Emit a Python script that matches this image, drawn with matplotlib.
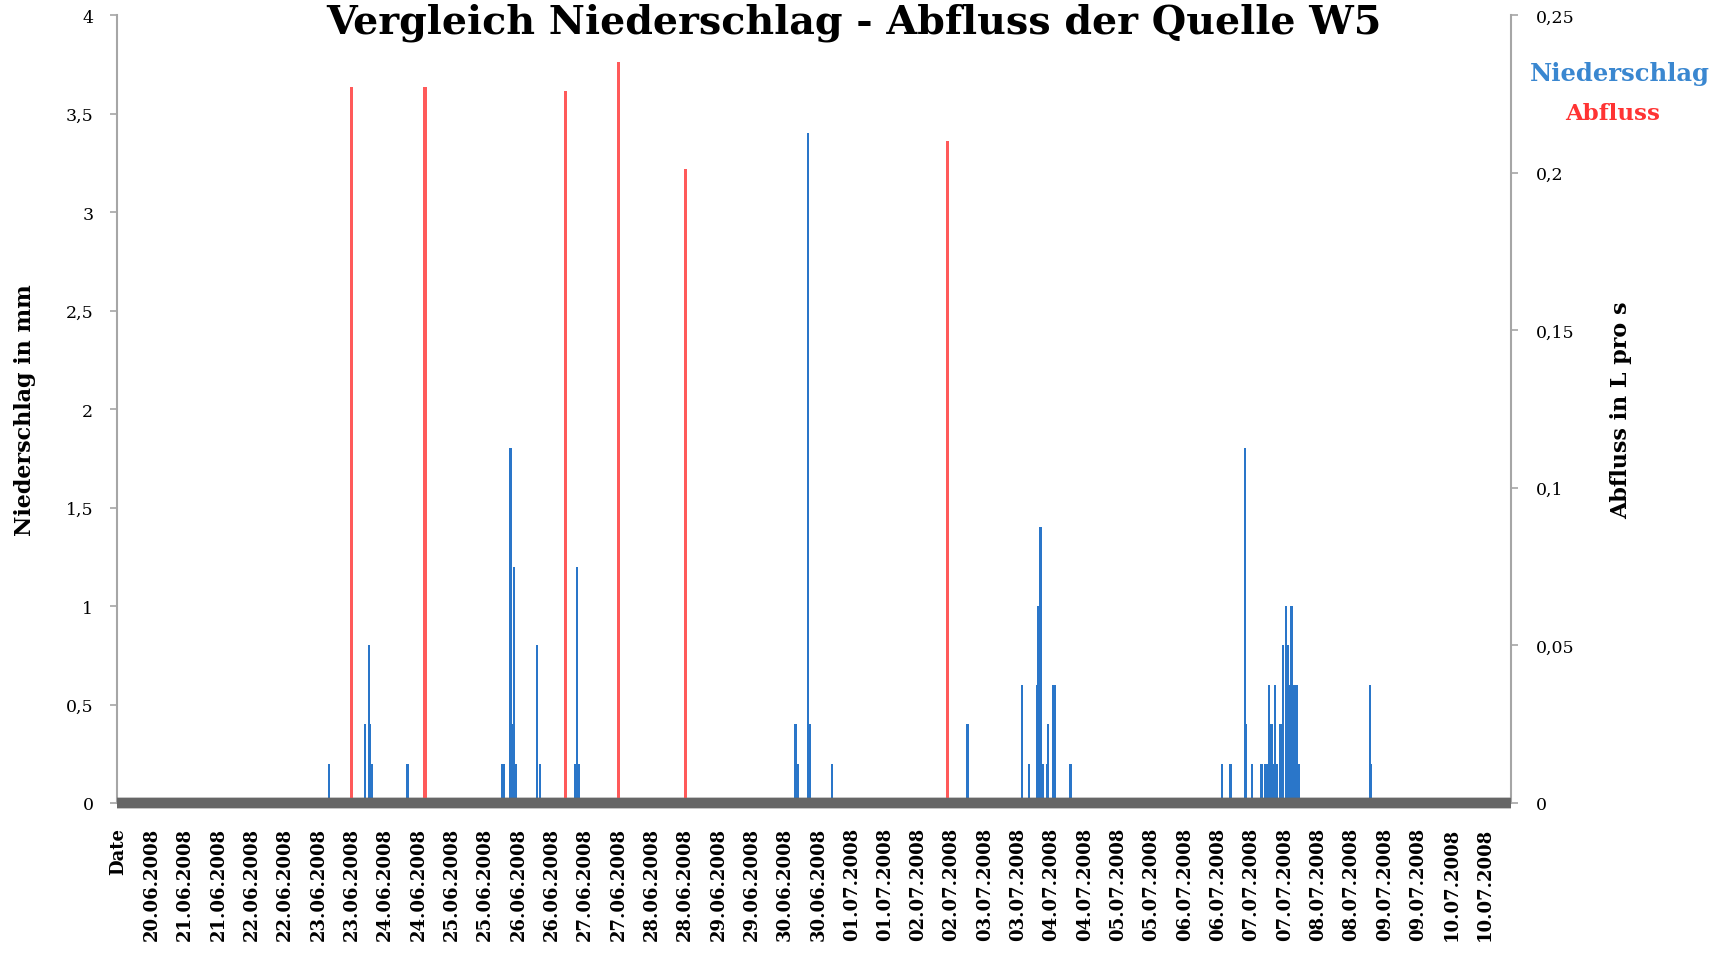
import matplotlib.pyplot as plt
from matplotlib.ticker import FuncFormatter

# x axis: category labels, one every 12 hours ("Date" is the header cell that ended up in the axis)
date_labels = ["Date",
               "20.06.2008", "21.06.2008", "21.06.2008", "22.06.2008", "22.06.2008",
               "23.06.2008", "23.06.2008", "24.06.2008", "24.06.2008", "25.06.2008",
               "25.06.2008", "26.06.2008", "26.06.2008", "27.06.2008", "27.06.2008",
               "28.06.2008", "28.06.2008", "29.06.2008", "29.06.2008", "30.06.2008",
               "30.06.2008", "01.07.2008", "01.07.2008", "02.07.2008", "02.07.2008",
               "03.07.2008", "03.07.2008", "04.07.2008", "04.07.2008", "05.07.2008",
               "05.07.2008", "06.07.2008", "06.07.2008", "07.07.2008", "07.07.2008",
               "08.07.2008", "08.07.2008", "09.07.2008", "09.07.2008", "10.07.2008",
               "10.07.2008"]

# Niederschlag in mm, time in hours from start of the axis
nied_h = [72.6, 75.9, 88.9, 90.1, 90.7, 91.4, 104.1,
          138.0, 138.9, 141.2, 141.7, 142.5, 143.2, 150.8, 151.8,
          164.5, 165.0, 165.7,
          243.8, 244.5, 248.4, 249.0, 257.0,
          305.4, 305.9,
          325.3, 327.9, 329.3, 330.8, 331.3, 332.0, 332.8, 334.2, 334.8,
          336.5, 337.2, 342.8,
          397.4, 400.4, 405.6, 406.1, 408.2, 411.6, 412.8, 413.5, 414.2,
          415.2, 415.8, 416.4, 417.1, 418.2, 418.8, 419.4, 420.3, 421.1,
          421.7, 422.4, 422.8, 423.6, 424.3, 424.9,
          450.6, 451.1, 460.8]
nied_mm = [0.02, 0.2, 0.4, 0.8, 0.4, 0.2, 0.2,
           0.2, 0.2, 1.8, 0.4, 1.2, 0.2, 0.8, 0.2,
           0.2, 1.2, 0.2,
           0.4, 0.2, 3.4, 0.4, 0.2,
           0.4, 0.4,
           0.6, 0.2, 0.02, 0.6, 1.0, 1.4, 0.2, 0.2, 0.4,
           0.6, 0.6, 0.2,
           0.2, 0.2, 1.8, 0.4, 0.2, 0.2, 0.2, 0.2, 0.6,
           0.4, 0.2, 0.6, 0.2, 0.4, 0.4, 0.8, 1.0, 0.8,
           0.6, 1.0, 0.6, 0.6, 0.6, 0.2,
           0.6, 0.2, 0.02]

# Abfluss in L/s
abfl_h = [84.0, 110.4, 161.0, 179.9, 204.2, 298.4]
abfl_ls = [0.227, 0.227, 0.226, 0.235, 0.201, 0.210]

blue = "#2a76c9"
red = "#ff5a5a"
grey = "#a6a6a6"

plt.rcParams["font.family"] = "DejaVu Serif"

fig = plt.figure(figsize=(17.21, 9.54), dpi=100)
ax = fig.add_axes([117/1721, 1-804/954, 1394/1721, 788/954])
ax2 = ax.twinx()

ax.bar(nied_h, nied_mm, width=0.8, color=blue, linewidth=0, zorder=1)
ax2.bar(abfl_h, abfl_ls, width=1.1, color=red, linewidth=0, zorder=1)

ax.set_xlim(-0.5, 501.4)
ax.set_ylim(0, 4)
ax2.set_ylim(0, 0.25)
ax.set_yticks([0, 0.5, 1, 1.5, 2, 2.5, 3, 3.5, 4])
ax2.set_yticks([0, 0.05, 0.1, 0.15, 0.2, 0.25])

comma = FuncFormatter(lambda v, p: ("%g" % v).replace(".", ","))
ax.yaxis.set_major_formatter(comma)
ax2.yaxis.set_major_formatter(comma)

ax.set_xticks([i * 12 for i in range(len(date_labels))])
ax.set_xticklabels(date_labels, rotation=90, fontsize=13, fontweight="bold")
ax.tick_params(axis="x", length=0, pad=17)
ax.tick_params(axis="y", length=5, width=1.2, color=grey, pad=12, labelsize=12.5)
ax2.tick_params(axis="y", length=5, width=1.2, color=grey, pad=13, labelsize=12.5)

for a in (ax, ax2):
    a.spines["top"].set_visible(False)
    a.spines["left"].set_color(grey)
    a.spines["right"].set_color(grey)
    a.spines["left"].set_linewidth(1.5)
    a.spines["right"].set_linewidth(1.5)
    a.spines["bottom"].set_color("#666666")
    a.spines["bottom"].set_linewidth(7.5)
    a.spines["bottom"].set_capstyle("butt")
ax2.spines["left"].set_visible(False)
ax.spines["right"].set_visible(False)

ax.set_ylabel("Niederschlag in mm", fontsize=16, fontweight="bold")
ax.yaxis.set_label_coords(-0.058, 0.5)
ax2.set_ylabel("Abfluss in L pro s", fontsize=16, fontweight="bold", rotation=90)
ax2.yaxis.set_label_coords(1.071, 0.5)

fig.text(854/1721, 1-33/954, "Vergleich Niederschlag - Abfluss der Quelle W5",
         ha="center", va="baseline", fontsize=28.5, fontweight="bold")
fig.text(1620/1721, 1-74/954, "Niederschlag", ha="center", va="center",
         fontsize=17.5, fontweight="bold", color="#3a87d0")
fig.text(1613/1721, 1-114/954, "Abfluss", ha="center", va="center",
         fontsize=16.5, fontweight="bold", color="#ff3333")

fig.savefig("out.png", dpi=100)
